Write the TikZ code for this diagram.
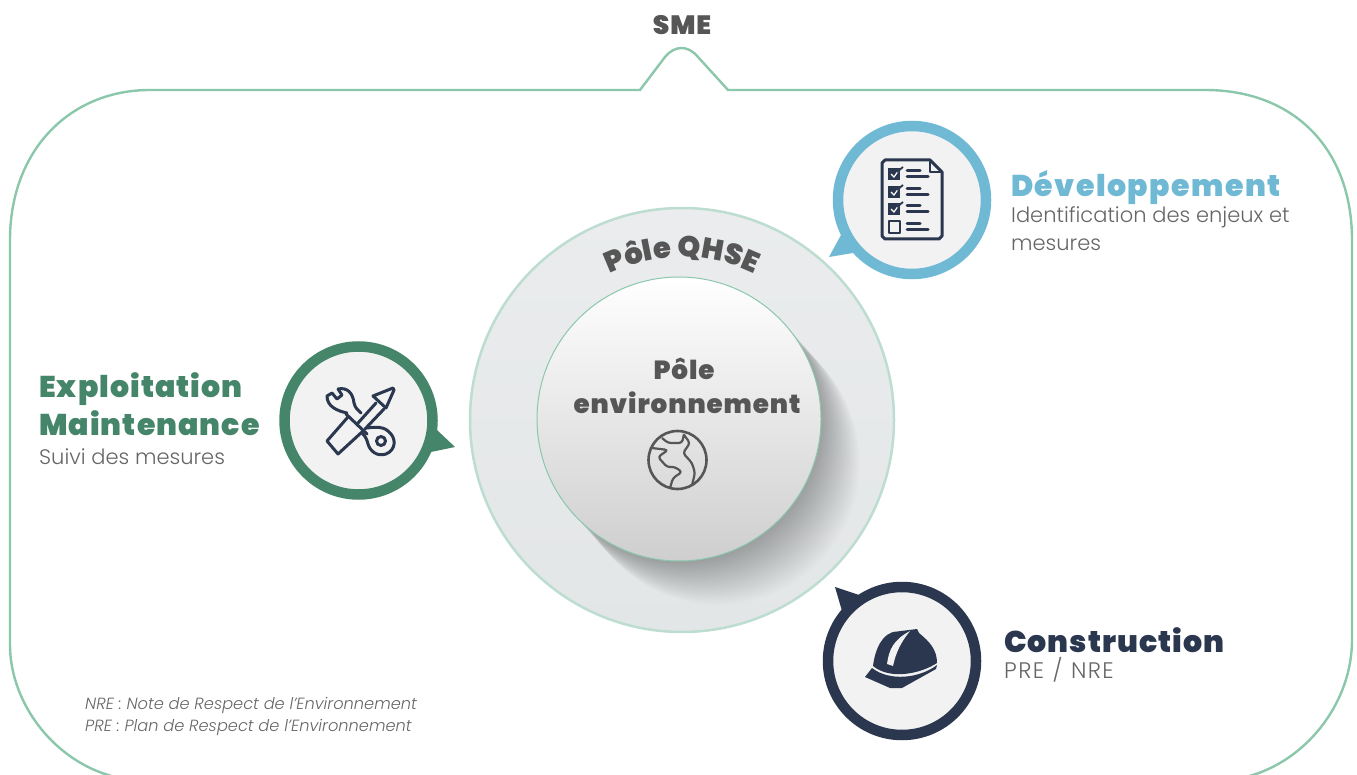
\documentclass[tikz,border=0pt]{standalone}
\usepackage{fontspec}
\usepackage{xcolor}
\usepackage{tikz}
\usetikzlibrary{decorations.text}
\newfontfamily\heavyfont[LetterSpace=3.5]{Poppins Black}
\newfontfamily\lightfont[ItalicFont={Poppins Light Italic}]{Poppins Light}
\definecolor{framegreen}{HTML}{8BC7AB}
\definecolor{ringgreen}{HTML}{BCDDD0}
\definecolor{textgrey}{HTML}{565656}
\definecolor{bodygrey}{HTML}{666666}
\definecolor{devblue}{HTML}{6FB9D4}
\definecolor{expgreen}{HTML}{45856A}
\definecolor{consnavy}{HTML}{2A374F}
\definecolor{panelgrey}{HTML}{F2F2F2}
\definecolor{disctop}{HTML}{EAECED}
\definecolor{discbottom}{HTML}{E3E6E7}
\tikzset{
    bubble/.style={circle, line width=10.5pt, fill=panelgrey, minimum size=148pt, inner sep=0pt},
    heading/.style={anchor=base west, inner sep=0pt, font=\heavyfont\fontsize{30}{30}\selectfont},
    body/.style={anchor=base west, inner sep=0pt, text=bodygrey, font=\lightfont\fontsize{21}{21}\selectfont},
    note/.style={anchor=base west, inner sep=0pt, text=bodygrey, font=\lightfont\itshape\fontsize{16.2}{16.2}\selectfont},
    inner title/.style={inner sep=0pt, text=textgrey, font=\heavyfont\fontsize{26.2}{26.2}\selectfont},
    iconline/.style={line width=3pt, line cap=round, line join=round, draw=consnavy},
}
\begin{document}
\begin{tikzpicture}[x=1pt,y=-1pt]
    \useasboundingbox (0,0) rectangle (1357,775);
    \clip (0,0) rectangle (1357,775);
    % frame
    \draw[framegreen, line width=2.4pt] (640,90) -- (665,57) .. controls (675,45) and (688,45) .. (698,57) -- (728,90) -- (1205,90)
        .. controls (1295,90) and (1352,150) .. (1352,240) -- (1352,640) .. controls (1352,700) and (1310,757) .. (1253,775)
        -- (1210,787) -- (150,787) -- (108,775) .. controls (50,757) and (10,700) .. (10,645) -- (10,240)
        .. controls (10,150) and (70,90) .. (150,90) -- cycle;
    \node[inner sep=0pt, text=textgrey, font=\heavyfont\fontsize{26.5}{26.5}\selectfont] (sme) at (682,25) {SME};

    % QHSE disc
    \draw[ringgreen, line width=2.5pt, top color=disctop, bottom color=discbottom] (682,420) circle (212);
    \foreach \k in {1,...,36}
        \fill[black, opacity=0.009] ({679+\k*39/36},{419+\k*44/36}) circle (142);
    \draw[framegreen, line width=1pt, top color=white, bottom color=black!19] (679,419) circle (142);
    \path[decorate, decoration={text along path, text align=center,
        text format delimiters={|}{|},
        text={|\heavyfont\fontsize{29}{29}\selectfont\color{textgrey}|Pôle QHSE}}]
        (517,422) arc (180:360:165);
    \node[inner title] (pole) at (684,369) {Pôle};
    \node[inner title] (enviro) at (687,403) {environnement};

    % globe
    \draw[textgrey, line width=2.6pt] (677.5,460) circle (29);
    \draw[textgrey, line width=2.2pt, line join=round, rounded corners=3pt]
        (662,438) -- (668,443) -- (682,443) -- (684,434)
        (684,435) -- (690,443) -- (683,453) -- (692,463) -- (695,473) -- (692,485)
        (652,448) -- (668,450) -- (658,457) -- (667,467) -- (675,467) -- (682,472) -- (673,478) -- (670,488);

    % developpement
    \fill[devblue] (841,235) -- (829,257) -- (853,253) -- cycle;
    \node[bubble, draw=devblue] (dev) at (912,200) {};
    \node[heading, text=devblue] (devtitle) at (1011,197) {\addfontfeature{LetterSpace=4.8}Développement};
    \node[body] (devtexta) at (1011,223) {Identification des enjeux et};
    \node[body] (devtextb) at (1011,251) {mesures};
    \draw[iconline] (930,160) -- (885,160) -- (882,163) -- (882,236) -- (885,239) -- (939,239) -- (942,236) -- (942,172) -- cycle;
    \draw[iconline, line width=2pt] (930,160) -- (930,172) -- (942,172);
    \foreach \row in {174,192,209} {
        \fill[consnavy] (888,{\row-6}) rectangle (900,{\row+6});
        \draw[white, line width=1.2pt] (891,\row) -- (894,{\row+3}) -- (899,{\row-4});
        \draw[consnavy, line width=1.8pt] (897,{\row-2}) -- (903,{\row-7});
    }
    \draw[iconline, line width=2.6pt] (889,221) rectangle (900,233);
    \foreach \row in {174,192,209,227} {
        \draw[iconline] (907,{\row-3}) -- (920,{\row-3});
        \draw[iconline] (907,{\row+2.5}) -- (928,{\row+2.5});
    }

    % exploitation
    \fill[expgreen] (437,430) -- (455,447) -- (431,452) -- cycle;
    \node[bubble, draw=expgreen] (exp) at (358.5,420.5) {};
    \node[heading, text=expgreen] (exptitlea) at (39,397) {Exploitation};
    \node[heading, text=expgreen] (exptitleb) at (39,435) {Maintenance};
    \node[body] (exptext) at (39,464) {Suivi des mesures};
    % screwdriver
    \draw[iconline] (348,417) -- (327,441) -- (338,454) -- (362,432);
    \draw[iconline] (346,414) -- (367,434);
    \draw[iconline] (358,423) -- (376,403) (365,429) -- (384,409);
    \draw[iconline] (373,396) -- (393,388) -- (394,390) -- (386,408) -- cycle;
    % wrench
    \draw[iconline] (338,389) .. controls (347,387) and (353,393) .. (354,403) .. controls (355,408) and (358,410) .. (361,413);
    \draw[iconline] (347,413) .. controls (338,411) and (327,407) .. (327,396) -- (332,393) -- (337,399) -- (342,395) -- (338,389);
    \draw[iconline] (367,428) .. controls (375,427) and (382,426) .. (388,431) .. controls (397,438) and (396,450) .. (386,454)
        .. controls (377,457) and (370,451) .. (368,444) .. controls (367,440) and (366,437) .. (362,433);
    \draw[iconline] (381,441) circle (4.5);

    % construction
    \fill[consnavy] (835,587) -- (859,595) -- (842,611) -- cycle;
    \node[bubble, draw=consnavy] (cons) at (902,661) {};
    \node[heading, text=consnavy] (constitle) at (1004,652) {Construction};
    \node[body] (constext) at (1004,678) {\fontsize{22.5}{22.5}\selectfont\addfontfeature{LetterSpace=6}PRE\hspace{1pt} / \hspace{1pt}NRE};
    % helmet
    \fill[consnavy] (873,666) .. controls (875,650) and (882,632) .. (897,631.5) -- (917,629) -- (919,633)
        .. controls (930,642) and (937,650) .. (937,663) .. controls (920,674) and (890,680) .. (873,666) -- cycle;
    \fill[panelgrey] (887,664) .. controls (889,650) and (893,640) .. (910,631) .. controls (901,642) and (896,652) .. (893,666) -- cycle;
    \fill[consnavy] (865,677) -- (872,668) .. controls (890,682) and (920,678) .. (937,665) -- (936,669) -- (902,688) -- (890,688) -- cycle;

    % notes
    \node[note] (nre) at (85,709) {NRE : Note de Respect de l’Environnement};
    \node[note] (pre) at (85,731) {PRE : Plan de Respect de l’Environnement};
\end{tikzpicture}
\end{document}
